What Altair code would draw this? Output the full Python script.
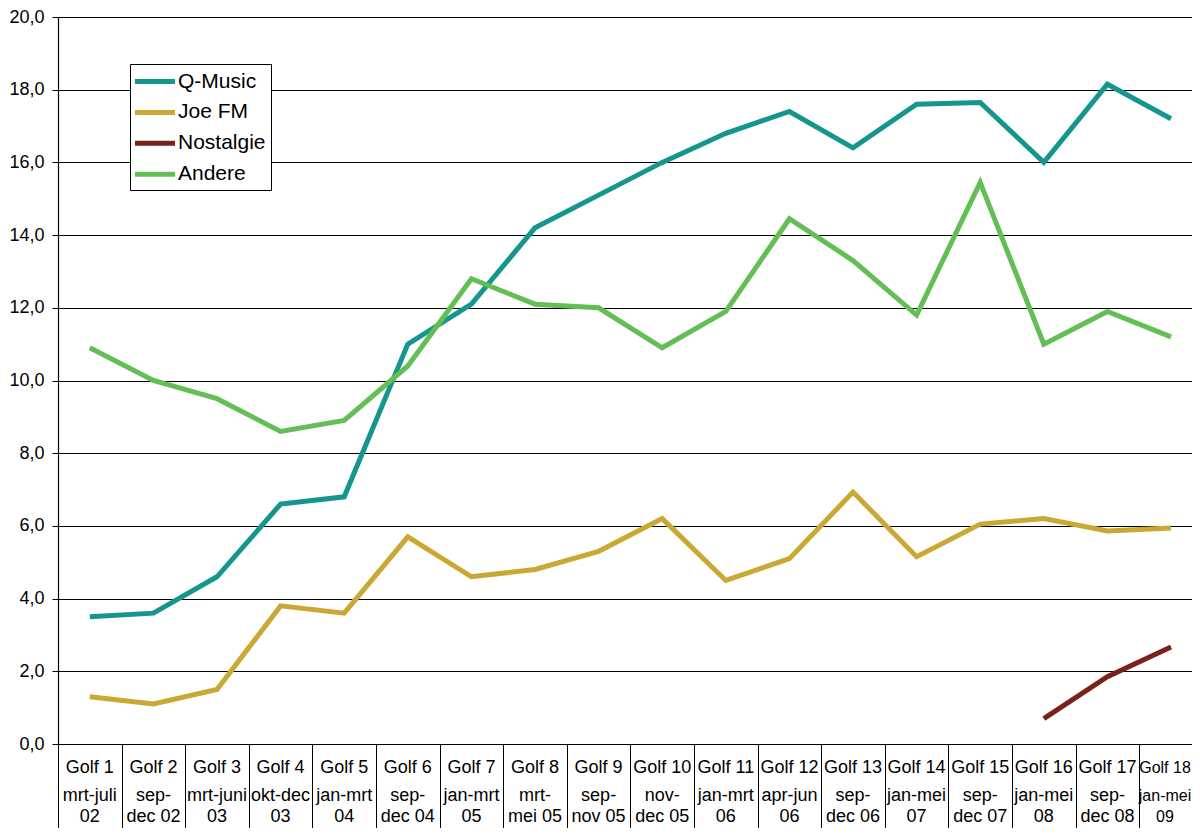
import altair as alt
import pandas as pd

golf = ["Golf 1", "Golf 2", "Golf 3", "Golf 4", "Golf 5", "Golf 6", "Golf 7", "Golf 8", "Golf 9",
        "Golf 10", "Golf 11", "Golf 12", "Golf 13", "Golf 14", "Golf 15", "Golf 16", "Golf 17", "Golf 18"]
period_top = ["mrt-juli", "sep-", "mrt-juni", "okt-dec", "jan-mrt", "sep-", "jan-mrt", "mrt-", "sep-",
              "nov-", "jan-mrt", "apr-jun", "sep-", "jan-mei", "sep-", "jan-mei", "sep-", "jan-mei"]
period_bottom = ["02", "dec 02", "03", "03", "04", "dec 04", "05", "mei 05", "nov 05",
                 "dec 05", "06", "06", "dec 06", "07", "dec 07", "08", "dec 08", "09"]

series_names = ["Q-Music", "Joe FM", "Nostalgie", "Andere"]
series_colors = ["#14968F", "#C9A933", "#7A2218", "#64BE56"]

q_music = [3.5, 3.6, 4.6, 6.6, 6.8, 11.0, 12.1, 14.2, 15.1, 16.0, 16.8, 17.4, 16.4, 17.6, 17.65, 16.0, 18.15, 17.2]
joe_fm = [1.3, 1.1, 1.5, 3.8, 3.6, 5.7, 4.6, 4.8, 5.3, 6.2, 4.5, 5.1, 6.93, 5.15, 6.05, 6.2, 5.86, 5.94]
nostalgie = [None, None, None, None, None, None, None, None, None,
             None, None, None, None, None, None, 0.7, 1.85, 2.67]
andere = [10.9, 10.0, 9.5, 8.6, 8.9, 10.4, 12.8, 12.1, 12.0, 10.9, 11.9, 14.45, 13.3, 11.8, 15.45, 11.0, 11.9, 11.2]

y_ticks = [0, 2, 4, 6, 8, 10, 12, 14, 16, 18, 20]

rows = []
for name, vals in zip(series_names, [q_music, joe_fm, nostalgie, andere]):
    for i, v in enumerate(vals):
        if v is not None:
            rows.append({"idx": i, "series": name, "value": v})
df = pd.DataFrame(rows)

labels_df = pd.DataFrame({"idx": list(range(len(golf))), "golf": golf,
                          "p1": period_top, "p2": period_bottom})

W = 1134
H = 727
FONT = "Liberation Sans"
n = len(golf)
boundaries = [i - 0.5 for i in range(n + 1)]

# the last category runs past the right edge of the picture, as in the original
x_scale = alt.Scale(domain=[-0.5, n - 0.67], nice=False, zero=False)

lines = alt.Chart(df).mark_line(strokeWidth=5, strokeJoin="miter").encode(
    x=alt.X("idx:Q", scale=x_scale, title=None,
            axis=alt.Axis(values=boundaries, labels=False, grid=False, tickSize=100,
                          tickColor="black", domainColor="black", tickWidth=1, domainWidth=1.2)),
    y=alt.Y("value:Q", scale=alt.Scale(domain=[0, 20], nice=False), title=None,
            axis=alt.Axis(values=y_ticks, grid=True, gridColor="black", gridWidth=1.2,
                          tickColor="black", tickSize=6, domainColor="black", domainWidth=1.2,
                          labelExpr="replace(format(datum.value, '.1f'), '.', ',')",
                          labelFontSize=18, labelFont=FONT, labelColor="black", labelPadding=8)),
    color=alt.Color("series:N", sort=series_names,
                    scale=alt.Scale(domain=series_names, range=series_colors),
                    legend=alt.Legend(title=None, orient="none", legendX=72, legendY=47,
                                      symbolType="M-1.25,0H2.75", symbolSize=400, symbolStrokeWidth=5,
                                      labelFontSize=21, labelFont=FONT, labelColor="black",
                                      labelOffset=18, rowPadding=7.9, padding=5,
                                      fillColor="white", strokeColor="black")),
    order=alt.Order("idx:Q"),
)


def label_layers(field, offset):
    base = alt.Chart(labels_df)
    main = base.transform_filter(alt.datum.idx < n - 1).mark_text(
        font=FONT, fontSize=18, baseline="middle", color="black").encode(
        x=alt.X("idx:Q", scale=x_scale), y=alt.value(H + offset), text=f"{field}:N")
    # the last column is partly outside the picture: keep its text inside, a little smaller
    last = base.transform_filter(alt.datum.idx == n - 1).mark_text(
        font=FONT, fontSize=16, baseline="middle", color="black", dx=-6).encode(
        x=alt.X("idx:Q", scale=x_scale), y=alt.value(H + offset), text=f"{field}:N")
    return [main, last]


text_layers = label_layers("golf", 24) + label_layers("p1", 52) + label_layers("p2", 73)

chart = alt.layer(lines, *text_layers).properties(
    width=W, height=H,
    autosize=alt.AutoSizeParams(type="none"),
    padding={"left": 50, "top": 9, "right": 0, "bottom": 84},
    background="white",
).configure_view(stroke=None)

chart.save("out.html", embed_options={"renderer": "svg", "actions": False})
